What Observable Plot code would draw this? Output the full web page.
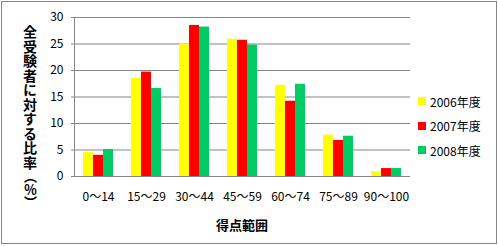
<!DOCTYPE html>
<html>
<head>
<meta charset="utf-8">
<script src="https://cdn.jsdelivr.net/npm/d3@7"></script>
<script src="https://cdn.jsdelivr.net/npm/@observablehq/plot@0.6"></script>
<style>
  html, body { margin: 0; padding: 0; background: #fff; }
  #wrap { position: relative; width: 498px; height: 246px; font-family: "Noto Sans CJK JP", sans-serif; }
  #frame { position: absolute; left: 1px; top: 1px; width: 494px; height: 241px; border: 1px solid #868686; box-sizing: content-box; pointer-events: none; }
  #chart { position: absolute; left: 0; top: 0; }
  #chart svg text { fill: #000; }
  #ylab { position: absolute; left: 22px; top: 25px; writing-mode: vertical-rl; text-orientation: mixed; font-size: 14px; font-weight: bold; line-height: 16px; letter-spacing: 0.5px; color: #000; }
  #ylab .pct { font-size: 13px; letter-spacing: 0; }
  #xlab { position: absolute; left: 0; width: 484px; top: 215px; text-align: center; font-size: 13px; font-weight: bold; color: #000; }
  #legend { position: absolute; left: 418px; top: 89px; font-size: 12px; color: #000; }
  #legend .item { display: flex; align-items: center; height: 24.5px; }
  #legend .sw { width: 8px; height: 8px; margin-right: 4px; }
</style>
</head>
<body>
<div id="wrap">
  <div id="chart"></div>
  <div id="ylab"></div>
  <div id="xlab">得点範囲</div>
  <div id="legend"></div>
  <div id="frame"></div>
</div>
<script>
const categories = ["0〜14", "15〜29", "30〜44", "45〜59", "60〜74", "75〜89", "90〜100"];
const series = ["2006年度", "2007年度", "2008年度"];
const v2006 = [4.5, 18.5, 25.0, 25.9, 17.2, 7.8, 0.9];
const v2007 = [4.0, 19.7, 28.5, 25.7, 14.2, 6.8, 1.5];
const v2008 = [5.1, 16.6, 28.2, 24.8, 17.4, 7.6, 1.5];
const yTicks = [0, 5, 10, 15, 20, 25, 30];
const colors = ["#ffff00", "#ff0000", "#00cc66"];
const yTitle = "全受験者に対する比率";
const yUnit = "（％）";

const valuesBySeries = [v2006, v2007, v2008];
const data = [];
categories.forEach((c, i) => {
  series.forEach((s, j) => data.push({cat: c, series: s, value: valuesBySeries[j][i]}));
});

const plot = Plot.plot({
  width: 498,
  height: 246,
  marginLeft: 74,
  marginRight: 88,
  marginTop: 17,
  marginBottom: 70,
  style: {fontSize: "12px", fontFamily: "'Noto Sans CJK JP', sans-serif", color: "#868686", background: "transparent"},
  facet: {data, x: "cat"},
  fx: {domain: categories, paddingInner: 0, paddingOuter: 0, axis: "bottom", label: null, tickSize: 0, tickPadding: 16},
  x: {domain: series, paddingInner: 0, paddingOuter: 0.75, axis: null},
  y: {domain: [0, 30], ticks: yTicks, tickSize: 3, tickPadding: 8, label: null, line: true},
  color: {domain: series, range: colors},
  marks: [
    Plot.ruleY(yTicks, {stroke: "#868686", strokeWidth: 1}),
    Plot.barY(data, {x: "series", y: "value", fill: "series", inset: 0})
  ]
});
document.getElementById("chart").appendChild(plot);

const ylab = document.getElementById("ylab");
ylab.appendChild(document.createTextNode(yTitle));
const unit = document.createElement("span");
unit.className = "pct";
unit.textContent = yUnit;
ylab.appendChild(unit);

const legend = document.getElementById("legend");
series.forEach((s, j) => {
  const item = document.createElement("div");
  item.className = "item";
  const sw = document.createElement("span");
  sw.className = "sw";
  sw.style.background = colors[j];
  const t = document.createElement("span");
  t.textContent = s;
  item.appendChild(sw);
  item.appendChild(t);
  legend.appendChild(item);
});
</script>
</body>
</html>
